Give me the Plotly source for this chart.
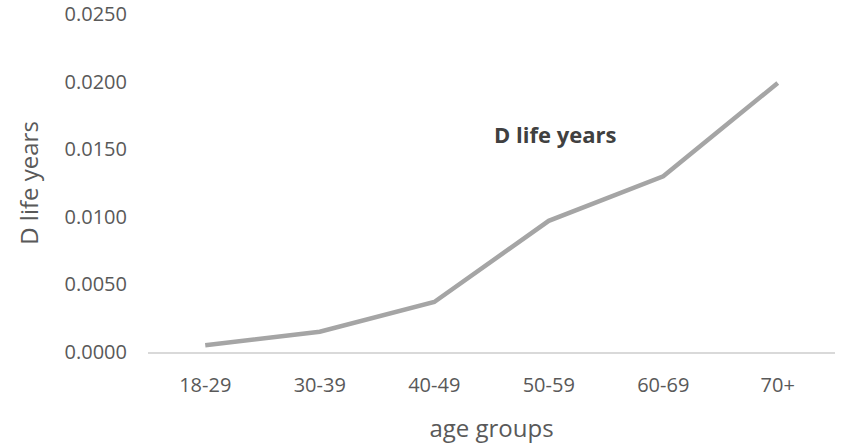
import plotly.graph_objects as go

age_groups = ["18-29", "30-39", "40-49", "50-59", "60-69", "70+"]
d_life_years = [0.0005, 0.0015, 0.0037, 0.0097, 0.0130, 0.0199]
y_ticks = [0.0, 0.005, 0.010, 0.015, 0.020, 0.025]

text_color = "#595959"
font_family = "Open Sans, Liberation Sans, sans-serif"

fig = go.Figure()
fig.add_trace(go.Scatter(
    x=age_groups,
    y=d_life_years,
    mode="lines",
    line=dict(color="#a5a5a5", width=4.5),
    name="D life years",
    showlegend=False,
))

fig.update_layout(
    width=842,
    height=444,
    margin=dict(l=148, r=7, t=14, b=92, autoexpand=False),
    paper_bgcolor="white",
    plot_bgcolor="white",
    font=dict(family=font_family, color=text_color, size=20),
    xaxis=dict(
        type="category",
        range=[-0.5, 5.5],
        automargin=False,
        showgrid=False,
        showline=True,
        linecolor="#d9d9d9",
        linewidth=1.5,
        ticks="",
        ticklabelstandoff=14,
        tickfont=dict(size=20, color=text_color),
        title=dict(text="age groups", font=dict(size=24, color=text_color), standoff=26),
        zeroline=False,
    ),
    yaxis=dict(
        range=[0, 0.025],
        automargin=False,
        tickvals=y_ticks,
        tickformat=".4f",
        showgrid=False,
        showline=False,
        zeroline=False,
        ticks="",
        ticklen=0,
        ticklabelstandoff=20,
        tickfont=dict(size=20, color=text_color),
        title=dict(text="D life years", font=dict(size=24, color=text_color), standoff=19),
    ),
    annotations=[dict(
        x=0.592, y=0.645, xref="paper", yref="paper",
        xanchor="center", yanchor="middle",
        text="<b>D life years</b>", showarrow=False,
        font=dict(size=22, color="#404040", family=font_family),
    )],
)

fig.write_html("out.html")
